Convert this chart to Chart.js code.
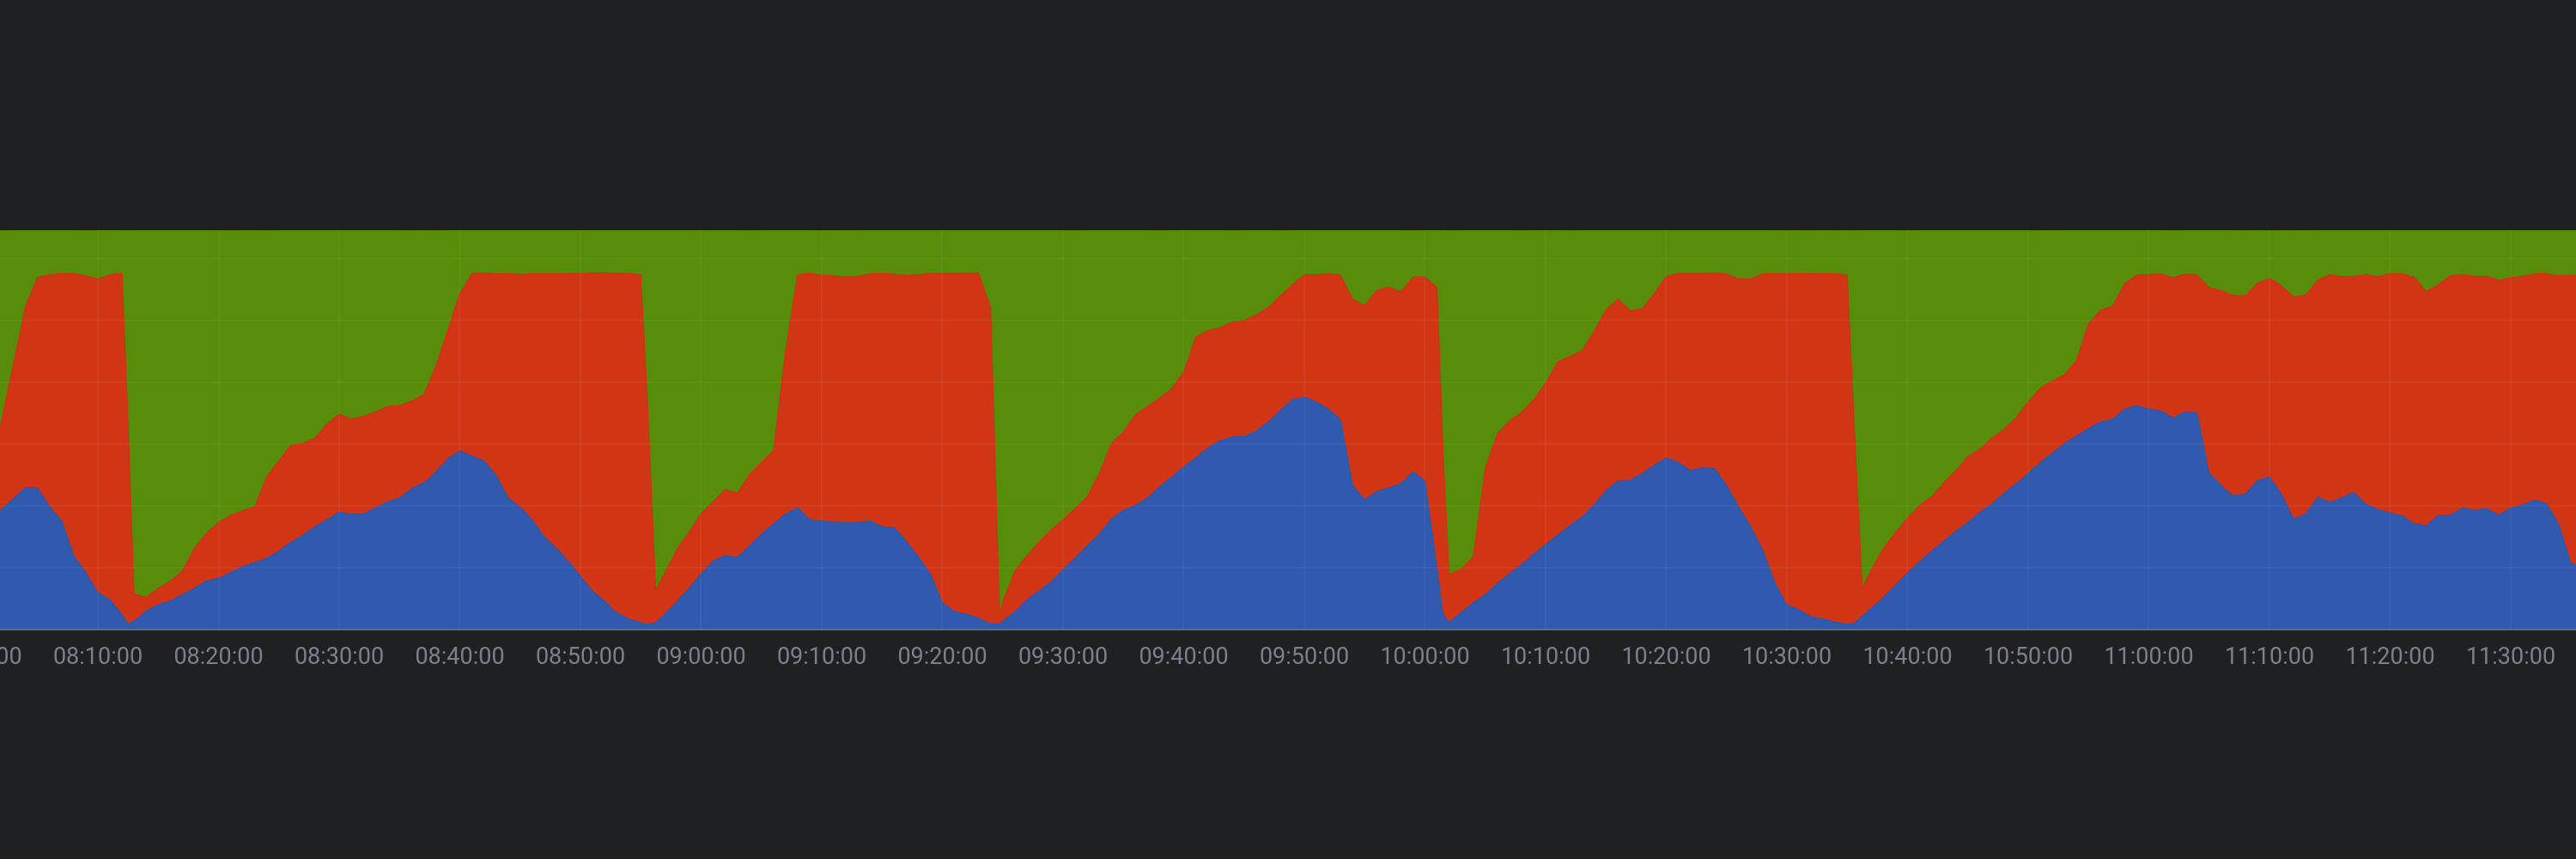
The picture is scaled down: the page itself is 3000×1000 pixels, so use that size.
<!DOCTYPE html>
<html>
<head>
<meta charset="utf-8">
<script src="https://cdn.jsdelivr.net/npm/chart.js@4.4.1/dist/chart.umd.min.js"></script>
<style>
    html, body { margin: 0; padding: 0; background: #1f2024; overflow: hidden; }
    canvas { display: block; }
</style>
</head>
<body>
<canvas id="usageChart" width="3000" height="1000"></canvas>
<script>
// Minuti dopo le 08:00:00
const times = [
    1.85, 2, 3, 4, 5, 6, 7, 8, 9, 10, 11, 12, 12.5, 13, 14, 15, 16, 17, 18, 19, 20,
    21, 22, 23, 24, 25, 26, 27, 28, 29, 30, 31, 32, 33, 34, 35, 36, 37, 38, 39, 40,
    41, 42, 43, 44, 45, 46, 47, 48, 49, 50, 51, 52, 53, 54, 55, 55.5, 56.25, 57, 58, 59,
    60, 61, 62, 63, 64, 65, 66, 67, 68, 69, 70, 71, 72, 73, 74, 75, 76, 77, 78, 79,
    80, 81, 82, 83, 84, 84.75, 85, 86, 87, 88, 89, 90, 91, 92, 93, 94, 95, 96, 97, 98,
    99, 100, 101, 102, 103, 104, 105, 106, 107, 108, 109, 110, 111, 112, 113, 114, 115, 116, 117, 118,
    119, 120, 121, 121.5, 122, 123, 124, 125, 126, 127, 128, 129, 130, 131, 132, 133, 134, 135, 136, 137,
    138, 139, 140, 141, 142, 143, 144, 145, 146, 147, 148, 149, 150, 151, 152, 153, 154, 155, 155.5, 156.25,
    157, 158, 159, 160, 161, 162, 163, 164, 165, 166, 167, 168, 169, 170, 171, 172, 173, 174, 175, 176,
    177, 178, 179, 180, 181, 182, 183, 184, 185, 186, 187, 188, 189, 190, 191, 192, 193, 194, 195, 196,
    197, 198, 199, 200, 201, 202, 203, 204, 205, 206, 207, 208, 209, 210, 211, 212, 213, 214, 215, 216
];

// Serie in percentuale (dal basso verso l'alto)
const blue = [
    29.7, 30.1, 32.8, 35.6, 35.5, 30.8, 27.2, 18.6, 14.3, 9.3, 7.5, 3.9, 1.4, 2.2, 4.7, 6.3, 7.2, 8.8, 10.4, 12.2, 12.9,
    14.3, 15.8, 16.8, 17.9, 19.7, 21.9, 23.7, 25.8, 27.6, 29.4, 29.0, 29.0, 30.5, 32.0, 33.0, 35.3, 36.8, 39.4, 42.8, 44.8,
    43.5, 42.3, 38.7, 33.0, 30.7, 27.6, 23.3, 20.4, 17.2, 13.4, 9.7, 7.2, 4.3, 2.7, 1.8, 1.3, 1.8, 3.9, 7.2, 10.4,
    14.0, 17.2, 18.6, 18.1, 21.0, 24.0, 26.5, 29.0, 30.5, 27.6, 27.2, 27.0, 26.7, 26.9, 27.2, 25.8, 25.6, 22.2, 18.3, 14.0,
    6.8, 4.5, 3.9, 2.9, 1.4, 1.4, 2.2, 4.5, 7.5, 9.7, 12.0, 15.1, 17.9, 21.0, 23.9, 27.7, 29.9, 31.1, 33.0, 35.8,
    38.2, 40.7, 43.0, 45.5, 47.3, 48.2, 48.4, 49.7, 52.0, 54.8, 57.6, 58.2, 57.0, 55.2, 52.7, 36.2, 32.5, 34.6, 35.5, 36.6,
    39.6, 37.3, 15.3, 3.9, 1.9, 4.3, 6.8, 8.8, 11.6, 14.0, 16.3, 18.9, 21.3, 23.7, 26.0, 28.2, 31.2, 34.8, 37.3, 37.4,
    39.1, 41.2, 43.0, 41.9, 39.9, 40.5, 40.4, 36.2, 30.8, 25.8, 19.9, 11.7, 6.2, 5.0, 3.2, 2.7, 1.9, 1.4, 1.4, 3.4,
    5.4, 8.2, 11.3, 14.3, 17.0, 19.7, 22.2, 24.6, 26.9, 29.4, 31.5, 34.2, 36.6, 39.1, 41.9, 44.2, 46.6, 48.5, 50.4, 52.0,
    52.7, 55.2, 56.1, 55.2, 54.8, 53.0, 54.5, 54.3, 39.1, 36.2, 33.5, 34.0, 37.3, 38.3, 34.0, 27.7, 29.0, 33.2, 31.9, 33.0,
    34.4, 31.4, 30.1, 29.2, 28.5, 26.5, 26.0, 28.7, 28.7, 30.5, 29.9, 30.3, 28.7, 30.5, 31.2, 32.5, 31.5, 26.2, 16.5, 15.8
];

const red = [
    20.8, 22.1, 33.8, 45.4, 52.7, 58.1, 62.0, 70.6, 74.3, 78.5, 81.4, 85.3, 50.5, 6.8, 3.4, 4.1, 5.0, 5.9, 10.0, 12.0, 14.0,
    14.3, 14.0, 14.0, 20.4, 22.6, 24.4, 22.9, 22.2, 24.0, 24.6, 23.8, 24.4, 24.0, 23.9, 23.1, 22.0, 22.0, 26.5, 32.1, 39.4,
    45.7, 47.0, 50.4, 56.1, 58.3, 61.5, 65.8, 68.7, 72.0, 75.8, 79.6, 82.1, 84.9, 86.5, 87.1, 58.8, 8.2, 10.4, 12.9, 14.0,
    15.1, 14.8, 16.5, 16.1, 17.8, 17.9, 18.3, 40.9, 58.4, 61.6, 61.6, 61.6, 61.6, 61.6, 61.9, 63.4, 63.4, 66.5, 70.6, 75.2,
    82.4, 84.7, 85.3, 86.4, 79.2, 2.2, 4.7, 10.2, 11.1, 12.2, 12.9, 12.5, 12.5, 12.3, 15.2, 18.9, 19.6, 22.7, 22.9, 22.2,
    22.2, 23.8, 30.3, 29.4, 28.3, 28.8, 29.0, 29.1, 28.7, 28.8, 28.8, 30.7, 31.9, 33.9, 36.1, 46.6, 48.7, 50.3, 50.3, 48.0,
    48.7, 51.0, 70.4, 40.9, 12.0, 10.8, 11.5, 31.7, 37.5, 38.3, 38.1, 38.7, 40.4, 43.4, 42.4, 41.6, 43.4, 45.3, 45.5, 42.5,
    41.2, 43.0, 45.5, 47.3, 49.3, 48.7, 48.9, 52.9, 57.0, 62.0, 69.2, 77.5, 82.9, 84.2, 85.9, 86.5, 87.2, 87.5, 54.8, 7.0,
    9.7, 12.2, 13.1, 13.6, 14.2, 13.6, 14.6, 15.2, 16.5, 15.8, 16.5, 16.0, 16.5, 17.9, 18.6, 18.1, 17.2, 18.9, 26.3, 28.0,
    28.3, 31.5, 32.7, 33.7, 34.3, 35.1, 34.5, 34.6, 46.6, 48.7, 50.2, 49.6, 49.5, 49.6, 52.2, 55.6, 54.8, 54.3, 57.0, 55.4,
    54.1, 57.5, 58.3, 59.9, 60.6, 61.8, 58.7, 57.7, 59.9, 58.4, 58.6, 58.2, 58.8, 57.6, 57.3, 56.6, 57.6, 62.4, 72.3, 73.1
];

const green = [
    49.5, 47.7, 33.4, 19.0, 11.8, 11.1, 10.8, 10.8, 11.3, 12.2, 11.1, 10.8, 48.0, 91.0, 91.9, 89.6, 87.8, 85.3, 79.6, 75.8, 73.1,
    71.3, 70.2, 69.2, 61.6, 57.7, 53.8, 53.4, 52.0, 48.4, 46.0, 47.2, 46.6, 45.5, 44.1, 43.9, 42.6, 41.2, 34.0, 25.1, 15.8,
    10.8, 10.8, 10.9, 10.9, 11.0, 10.9, 10.9, 10.9, 10.8, 10.8, 10.8, 10.8, 10.8, 10.8, 11.1, 39.9, 90.0, 85.7, 79.9, 75.6,
    71.0, 68.0, 64.9, 65.8, 61.1, 58.1, 55.2, 30.1, 11.1, 10.8, 11.1, 11.3, 11.6, 11.5, 10.9, 10.8, 11.0, 11.3, 11.1, 10.8,
    10.8, 10.8, 10.8, 10.8, 19.4, 96.4, 93.2, 85.3, 81.4, 78.1, 75.1, 72.4, 69.5, 66.7, 60.9, 53.4, 50.5, 46.2, 44.1, 41.9,
    39.6, 35.5, 26.7, 25.1, 24.4, 22.9, 22.6, 21.2, 19.4, 16.3, 13.6, 11.1, 11.1, 10.9, 11.3, 17.2, 18.8, 15.1, 14.2, 15.4,
    11.6, 11.7, 14.3, 55.2, 86.0, 84.9, 81.7, 59.5, 50.9, 47.7, 45.5, 42.4, 38.3, 33.0, 31.5, 30.2, 25.4, 19.9, 17.2, 20.1,
    19.7, 15.8, 11.5, 10.8, 10.8, 10.8, 10.8, 10.9, 12.2, 12.2, 10.9, 10.8, 10.8, 10.8, 10.8, 10.8, 10.8, 11.1, 43.7, 89.6,
    84.9, 79.6, 75.6, 72.0, 68.8, 66.7, 63.2, 60.2, 56.6, 54.8, 52.0, 49.8, 46.9, 43.0, 39.4, 37.6, 36.2, 32.6, 23.3, 20.1,
    19.0, 13.3, 11.2, 11.1, 10.9, 11.8, 11.0, 11.1, 14.3, 15.1, 16.3, 16.3, 13.3, 12.0, 13.8, 16.6, 16.1, 12.5, 11.1, 11.6,
    11.5, 11.1, 11.6, 10.9, 10.9, 11.7, 15.3, 13.6, 11.5, 11.1, 11.5, 11.5, 12.5, 12.0, 11.5, 10.9, 10.9, 11.5, 11.2, 11.1
];

// Etichette dell'asse X: ogni 10 minuti
const tickMinutes = [0, 10, 20, 30, 40, 50, 60, 70, 80, 90, 100, 110, 120, 130, 140, 150, 160, 170, 180, 190, 200, 210];

// Intervallo visibile (minuti dopo le 08:00)
const viewStart = 1.886;
const viewEnd = 215.41;

// Converte i minuti in "HH:MM:SS"
function formatTime(minutes) {
    const total = Math.round(minutes * 60);
    const h = 8 + Math.floor(total / 3600);
    const m = Math.floor((total % 3600) / 60);
    const s = total % 60;
    const pad = function(n) { return String(n).padStart(2, '0'); };
    return pad(h) + ':' + pad(m) + ':' + pad(s);
}

function toPoints(values) {
    return values.map(function(v, i) {
        return { x: times[i], y: v };
    });
}

function makeDataset(label, values, color, fill) {
    return {
        label: label,
        data: toPoints(values),
        backgroundColor: color,
        borderColor: color,
        borderWidth: 1,
        pointRadius: 0,
        tension: 0,
        fill: fill
    };
}

const gridColor = 'rgba(255, 255, 255, 0.045)';

const ctx = document.getElementById('usageChart').getContext('2d');
new Chart(ctx, {
    type: 'line',
    data: {
        datasets: [
            makeDataset('blue', blue, '#2f5aad', 'origin'),
            makeDataset('red', red, '#d13516', '-1'),
            makeDataset('green', green, '#578d08', '-1')
        ]
    },
    options: {
        responsive: false,
        animation: false,
        devicePixelRatio: 1,
        layout: { padding: { top: 268, left: 0, right: 0, bottom: 0 } },
        plugins: {
            legend: { display: false },
            tooltip: { enabled: false }
        },
        scales: {
            x: {
                type: 'linear',
                min: viewStart,
                max: viewEnd,
                grid: { color: gridColor, lineWidth: 2, drawTicks: false, tickLength: 0, z: 1 },
                border: { display: true, color: 'rgba(110, 115, 125, 0.7)', width: 2, z: 1 },
                ticks: {
                    autoSkip: false,
                    maxRotation: 0,
                    padding: 17,
                    color: '#7b8189',
                    font: { family: 'Roboto', size: 27 },
                    callback: function(value) { return formatTime(value); }
                },
                afterBuildTicks: function(scale) {
                    scale.ticks = tickMinutes.map(function(v) { return { value: v }; });
                },
                afterFit: function(scale) {
                    scale.paddingLeft = 0;
                    scale.paddingRight = 0;
                    scale.height = 1000 - 733;
                }
            },
            y: {
                stacked: true,
                min: 0,
                max: 100,
                grid: { color: gridColor, lineWidth: 2, drawTicks: false, tickLength: 0, z: 1 },
                border: { display: false },
                ticks: { display: false, stepSize: 15.5 },
                afterBuildTicks: function(scale) {
                    scale.ticks = scale.ticks.filter(function(t) { return t.value < 99; });
                },
                afterFit: function(scale) {
                    scale.width = 0;
                }
            }
        }
    }
});
</script>
</body>
</html>
